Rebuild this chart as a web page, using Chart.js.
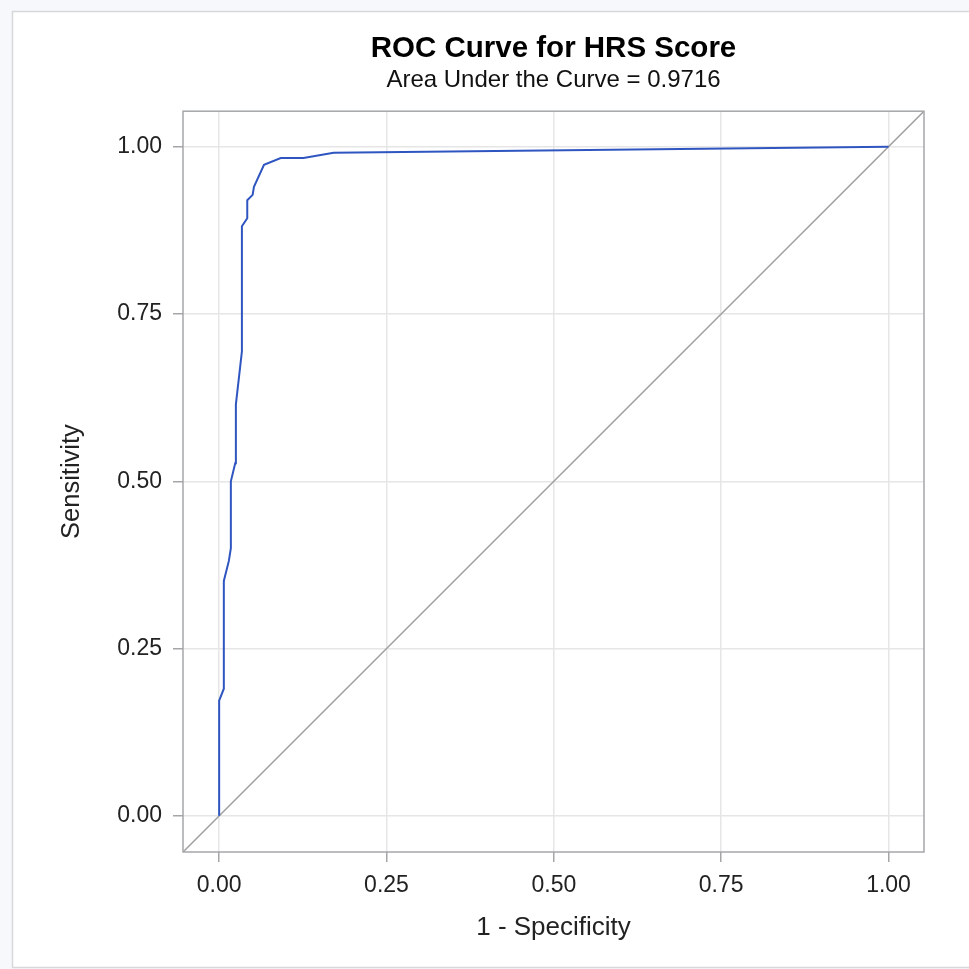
<!DOCTYPE html>
<html>
<head>
<meta charset="utf-8">
<title>ROC Curve for HRS Score</title>
<script src="https://cdn.jsdelivr.net/npm/chart.js@4/dist/chart.umd.min.js"></script>
<style>
  html, body { margin: 0; padding: 0; background: #f6f8fc; }
  canvas { display: block; }
</style>
</head>
<body>
<canvas id="rocChart" width="969" height="969"></canvas>
<script>
// ROC curve (1 - specificity, sensitivity)
const fpr = [0, 0, 0.007, 0.007, 0.0145, 0.0175, 0.0175, 0.024, 0.025, 0.034, 0.034,
             0.042, 0.042, 0.050, 0.052, 0.067, 0.092, 0.126, 0.171, 1];
const tpr = [0, 0.172, 0.190, 0.351, 0.381, 0.400, 0.500, 0.527, 0.615, 0.694, 0.881,
             0.893, 0.920, 0.928, 0.940, 0.973, 0.983, 0.983, 0.991, 1];

const tickValues = [0, 0.25, 0.5, 0.75, 1];
const axisMin = -0.054;
const axisMax = 1.053;

const rocPoints = fpr.map((x, i) => ({ x: x, y: tpr[i] }));
const chancePoints = [{ x: axisMin, y: axisMin }, { x: axisMax, y: axisMax }];

const FONT = "'Liberation Sans', Arial, sans-serif";

// light outer background + white panel, and the plot frame
const panelPlugin = {
  id: "panel",
  beforeDraw(chart) {
    const ctx = chart.ctx;
    ctx.save();
    ctx.fillStyle = "#f6f8fc";
    ctx.fillRect(0, 0, chart.width, chart.height);
    ctx.fillStyle = "#ffffff";
    ctx.fillRect(12, 11, chart.width - 12, 956);
    ctx.strokeStyle = "#d6d8dc";
    ctx.lineWidth = 1.5;
    ctx.beginPath();
    ctx.moveTo(chart.width, 11.5);
    ctx.lineTo(12.5, 11.5);
    ctx.lineTo(12.5, 967.5);
    ctx.lineTo(chart.width, 967.5);
    ctx.stroke();
    ctx.restore();
  },
  afterDraw(chart) {
    const a = chart.chartArea;
    const ctx = chart.ctx;
    ctx.save();
    ctx.strokeStyle = "#a4a6a8";
    ctx.lineWidth = 1.5;
    ctx.strokeRect(a.left, a.top, a.right - a.left, a.bottom - a.top);
    ctx.restore();
  }
};

function fixedTicks(scale) {
  scale.ticks = tickValues.map(v => ({ value: v }));
}

new Chart(document.getElementById("rocChart").getContext("2d"), {
  type: "scatter",
  data: {
    datasets: [
      {
        label: "Chance",
        data: chancePoints,
        showLine: true,
        borderColor: "#a0a0a0",
        borderWidth: 1.5,
        pointRadius: 0,
        order: 2
      },
      {
        label: "ROC",
        data: rocPoints,
        showLine: true,
        borderColor: "#2f56c0",
        borderWidth: 2,
        pointRadius: 0,
        order: 1
      }
    ]
  },
  options: {
    responsive: false,
    animation: false,
    layout: { padding: { left: 20, right: 45, top: 14, bottom: 22 } },
    plugins: {
      legend: { display: false },
      tooltip: { enabled: false },
      title: {
        display: true,
        fullSize: false,
        text: "ROC Curve for HRS Score",
        color: "#000000",
        font: { family: FONT, size: 29.5, weight: "bold" },
        padding: { top: 17, bottom: 0 }
      },
      subtitle: {
        display: true,
        fullSize: false,
        text: "Area Under the Curve = 0.9716",
        color: "#111111",
        font: { family: FONT, size: 24 },
        padding: { top: 0, bottom: 16 }
      }
    },
    scales: {
      x: {
        type: "linear",
        min: axisMin,
        max: axisMax,
        afterBuildTicks: fixedTicks,
        afterFit(scale) { scale.height = 95; },
        grid: { color: "#e6e6e6", lineWidth: 1.5, tickColor: "#a4a6a8", tickLength: 10 },
        border: { display: false },
        ticks: {
          color: "#222222",
          padding: 10,
          maxRotation: 0,
          font: { family: FONT, size: 23 },
          callback: v => Number(v).toFixed(2)
        },
        title: {
          display: true,
          text: "1 - Specificity",
          color: "#222222",
          font: { family: FONT, size: 26 },
          padding: { top: 4, bottom: 4 }
        }
      },
      y: {
        type: "linear",
        min: axisMin,
        max: axisMax,
        afterBuildTicks: fixedTicks,
        afterFit(scale) { scale.width = 163; },
        grid: { color: "#e6e6e6", lineWidth: 1.5, tickColor: "#a4a6a8", tickLength: 10 },
        border: { display: false },
        ticks: {
          color: "#222222",
          padding: 11,
          font: { family: FONT, size: 23 },
          callback: v => Number(v).toFixed(2)
        },
        title: {
          display: true,
          text: "Sensitivity",
          color: "#222222",
          font: { family: FONT, size: 25.5 },
          padding: { top: 37, bottom: 4 }
        }
      }
    }
  },
  plugins: [panelPlugin]
});
</script>
</body>
</html>
